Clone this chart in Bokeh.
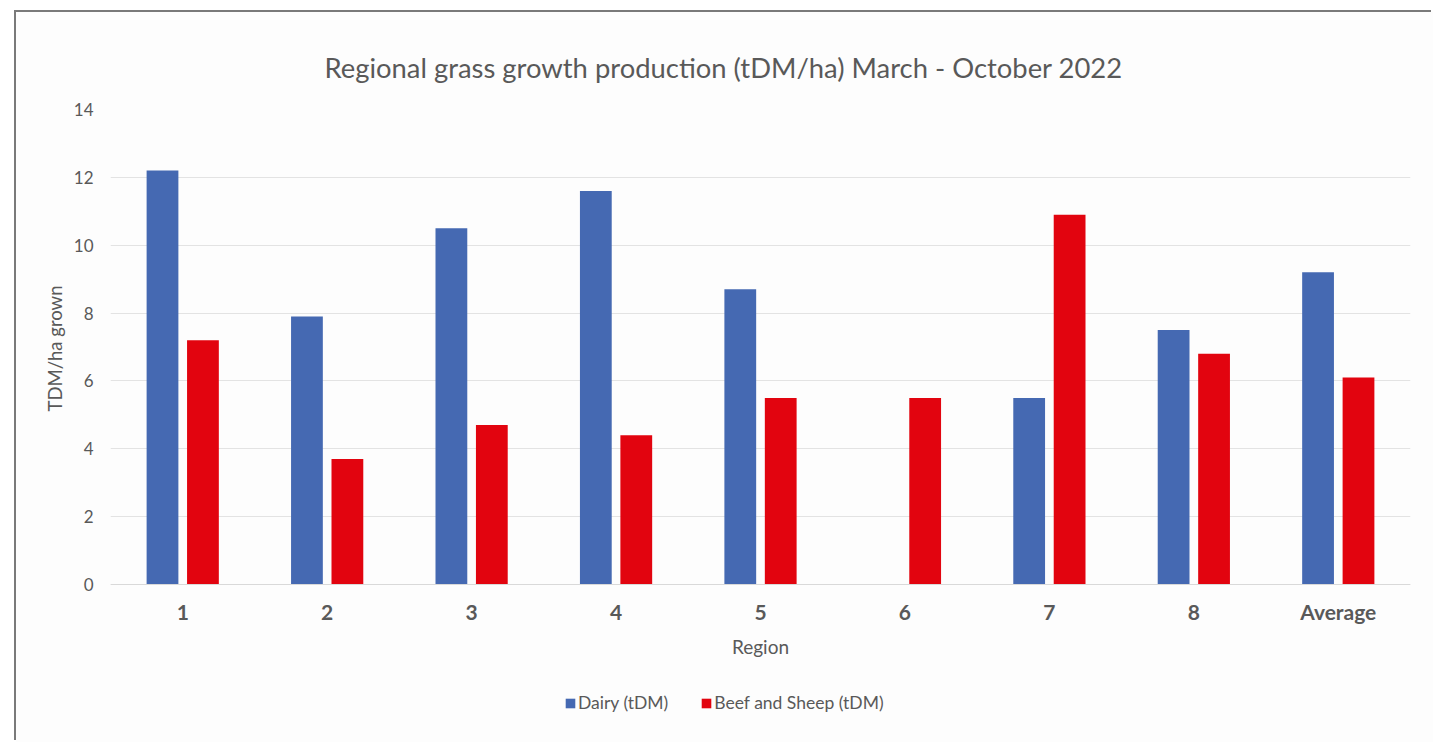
from bokeh.plotting import figure
from bokeh.models import (ColumnDataSource, FactorRange, Range1d, FixedTicker,
                          Legend, LegendItem, Title)
from bokeh.transform import dodge
from bokeh.embed import file_html
from bokeh.resources import INLINE

# ---- data ----
regions = ["1", "2", "3", "4", "5", "6", "7", "8", "Average"]
dairy = [12.2, 7.9, 10.5, 11.6, 8.7, float("nan"), 5.5, 7.5, 9.2]
beef_sheep = [7.2, 3.7, 4.7, 4.4, 5.5, 5.5, 10.9, 6.8, 6.1]
y_ticks = [0, 2, 4, 6, 8, 10, 12, 14]
series_names = ["Dairy (tDM)", "Beef and Sheep (tDM)"]
title_text = "Regional grass growth production (tDM/ha) March - October 2022"
x_label = "Region"
y_label = "TDM/ha grown"

FONT = "Lato"
GREY = "#595959"
BLUE = "#4569B2"
RED = "#E2040F"
BG = "#FDFDFD"

src = ColumnDataSource(dict(region=regions, dairy=dairy, beef=beef_sheep))

# the frame is extended below zero so the axis texts and legend sit inside it
p = figure(
    x_range=FactorRange(factors=regions, range_padding=0),
    y_range=Range1d(-4.45, 14),
    width=1417, height=730,
    output_backend="svg", toolbar_location=None,
    title=title_text,
    min_border_left=94, min_border_right=23,
    min_border_top=97, min_border_bottom=7,
    background_fill_color=BG, border_fill_color=BG,
)
p.styles = {"margin-left": "16px", "margin-top": "12px",
            "background-color": BG, "overflow": "hidden",
            "box-shadow": "-2px -2px 0px 0px #7A7A7A"}
p.outline_line_color = None

r1 = p.vbar(x=dodge("region", -0.14, range=p.x_range), top="dairy", width=0.22,
            source=src, fill_color=BLUE, line_color=None)
r2 = p.vbar(x=dodge("region", 0.14, range=p.x_range), top="beef", width=0.22,
            source=src, fill_color=RED, line_color=None)

# title
p.title.text_font = FONT
p.title.text_font_size = "27.4px"
p.title.text_font_style = "normal"
p.title.text_color = GREY
p.title.align = "left"
p.title.offset = 214
p.title.standoff = 52

# y axis
p.yaxis.ticker = FixedTicker(ticks=y_ticks)
p.yaxis.axis_line_color = None
p.yaxis.major_tick_line_color = None
p.yaxis.major_tick_out = 0
p.yaxis.minor_tick_line_color = None
p.yaxis.major_label_text_font = FONT
p.yaxis.major_label_text_font_size = "17px"
p.yaxis.major_label_text_color = GREY
p.yaxis.major_label_standoff = 17

ytitle = Title(text=y_label, align="left", offset=324, standoff=10,
               text_font=FONT, text_font_size="18.5px", text_font_style="normal",
               text_color=GREY)
p.add_layout(ytitle, "left")

# x axis, fixed at y = 0
p.xaxis.fixed_location = 0
p.xaxis.axis_line_color = "#D9D9D9"
p.xaxis.major_tick_line_color = None
p.xaxis.major_tick_out = 0
p.xaxis.minor_tick_line_color = None
p.xaxis.major_label_text_font = FONT
p.xaxis.major_label_text_font_size = "21px"
p.xaxis.major_label_text_font_style = "bold"
p.xaxis.major_label_text_color = GREY
p.xaxis.major_label_standoff = 14
p.xaxis.axis_label = x_label
p.xaxis.axis_label_text_font = FONT
p.xaxis.axis_label_text_font_size = "19px"
p.xaxis.axis_label_text_font_style = "normal"
p.xaxis.axis_label_text_color = GREY
p.xaxis.axis_label_standoff = 8

# grid
p.xgrid.grid_line_color = None
p.ygrid.grid_line_color = "#E3E3E3"
p.ygrid.ticker = FixedTicker(ticks=y_ticks)

legend = Legend(
    items=[LegendItem(label=series_names[0], renderers=[r1]),
           LegendItem(label=series_names[1], renderers=[r2])],
    location=(454, 22), orientation="horizontal",
    label_text_font=FONT, label_text_font_size="17.5px", label_text_color=GREY,
    glyph_width=12, glyph_height=12, label_standoff=2, spacing=32,
    padding=0, margin=0, background_fill_alpha=0, border_line_color=None,
)
p.add_layout(legend, "center")

open("out.html", "w").write(file_html(p, INLINE))
